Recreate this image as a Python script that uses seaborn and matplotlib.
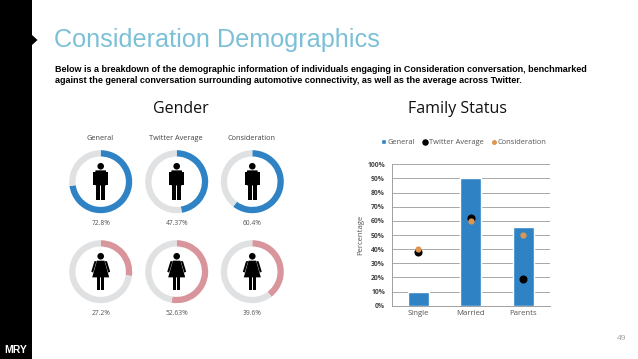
import matplotlib
matplotlib.use('Agg')
import matplotlib.pyplot as plt
import matplotlib.patches as mp
import pandas as pd
import seaborn as sns

W, H = 638, 359

# 数据
gender_groups = ['General', 'Twitter Average', 'Consideration']
male_values = [72.8, 47.37, 60.4]
female_values = [27.2, 52.63, 39.6]
male_labels = ['72.8%', '47.37%', '60.4%']
female_labels = ['27.2%', '52.63%', '39.6%']

family_status = ['Single', 'Married', 'Parents']
general_family = [10, 90, 55.5]
twitter_family = [38, 62, 19]
consideration_family = [40, 60, 50]

title_text = 'Consideration Demographics'
intro_lines = ['Below is a breakdown of the demographic information of individuals engaging in Consideration conversation, benchmarked',
               'against the general conversation surrounding automotive connectivity, as well as the average across Twitter.']

BLUE = '#2f83c5'
PINK = '#d9959c'
RING = '#dfe1e3'
ORANGE = '#e0954f'

sns.set_theme(style='white')
plt.rcParams['font.family'] = ['Open Sans', 'DejaVu Sans']

fig = plt.figure(figsize=(W / 100, H / 100), dpi=100, facecolor='white')


def px_axes(x0, y0, x1, y1):
    # 像素坐标（左上角为原点）转换为figure坐标
    return fig.add_axes([x0 / W, 1 - y1 / H, (x1 - x0) / W, (y1 - y0) / H])


# 背景层：侧边栏和文字
bg = fig.add_axes([0, 0, 1, 1])
bg.set_xlim(0, W)
bg.set_ylim(H, 0)
bg.axis('off')
bg.add_patch(mp.Rectangle((0, 0), 32, H, color='black', lw=0))
bg.add_patch(mp.Polygon([(32, 35), (37.5, 40), (32, 45)], color='black', lw=0))
bg.text(16, 350, 'MRY', color='white', fontsize=7.5, fontweight='bold', ha='center', va='center',
        family='Liberation Sans')
bg.text(54, 40, title_text, color='#7cc0d8', fontsize=18.2, ha='left', va='center',
        family='Liberation Sans')
for line, y in zip(intro_lines, [69, 80.5]):
    bg.text(55, y, line, color='black', fontsize=6.48, fontweight='bold', ha='left', va='center',
            family='Liberation Sans')
bg.text(181, 109, 'Gender', color='#111111', fontsize=11.5, ha='center', va='center')
bg.text(458, 109, 'Family Status', color='#111111', fontsize=11.5, ha='center', va='center')
bg.text(622, 339, '49', color='#999999', fontsize=6, ha='center', va='center')


def draw_man(ax):
    ax.add_patch(mp.Circle((0, 0.49), 0.105, color='black', lw=0))
    ax.add_patch(mp.FancyBboxPatch((-0.15, -0.10), 0.30, 0.44, boxstyle='round,pad=0.02', color='black', lw=0))
    for sx in (-1, 1):
        ax.add_patch(mp.Rectangle((sx * 0.19 - 0.04, -0.10), 0.08, 0.40, color='black', lw=0))
        ax.add_patch(mp.Rectangle((sx * 0.075 - 0.06, -0.59), 0.12, 0.52, color='black', lw=0))


def draw_woman(ax):
    ax.add_patch(mp.Circle((0, 0.49), 0.105, color='black', lw=0))
    ax.add_patch(mp.Polygon([(-0.12, 0.35), (0.12, 0.35), (0.27, -0.18), (-0.27, -0.18)], color='black', lw=0))
    for sx in (-1, 1):
        ax.add_patch(mp.Polygon([(sx * 0.13, 0.34), (sx * 0.20, 0.33), (sx * 0.30, 0.0), (sx * 0.24, -0.03)],
                                color='black', lw=0))
        ax.add_patch(mp.Rectangle((sx * 0.07 - 0.05, -0.58), 0.10, 0.42, color='black', lw=0))


# 环形图
centers_x = [100.7, 176.7, 252.3]
R = 31.5
rows = [(181.7, male_values, male_labels, BLUE, draw_man),
        (271.7, female_values, female_labels, PINK, draw_woman)]
for cy, values, labels, color, icon in rows:
    for cx, val, lab in zip(centers_x, values, labels):
        ax = px_axes(cx - R, cy - R, cx + R, cy + R)
        ax.pie([val, 100 - val], colors=[color, RING], startangle=90, counterclock=False, radius=1,
               wedgeprops={'width': 0.2, 'linewidth': 0})
        ax.set_xlim(-1, 1)
        ax.set_ylim(-1, 1)
        icon(ax)
        bg.text(cx, cy + 41.5, lab, color='#555555', fontsize=4.8, ha='center', va='center')

for cx, name in zip(centers_x, gender_groups):
    bg.text(cx - 0.5, 138, name, color='#444444', fontsize=5.3, ha='center', va='center')

# 柱状图和散点
df = pd.DataFrame({'status': family_status, 'general': general_family,
                   'twitter': twitter_family, 'consideration': consideration_family})
ax = px_axes(392, 164.3, 549.5, 305.7)
ax.set_axisbelow(True)
sns.barplot(data=df, x='status', y='general', color=BLUE, saturation=1, width=0.395, ax=ax, label='General', zorder=2)
sns.scatterplot(data=df, x='status', y='twitter', color='black', s=34, linewidth=0, ax=ax,
                label='Twitter Average', zorder=3)
sns.scatterplot(data=df, x='status', y='consideration', color=ORANGE, s=20, linewidth=0, ax=ax,
                label='Consideration', zorder=4)

ax.set_xlim(-0.5, 2.5)
ax.set_ylim(0, 100)
ax.set_yticks(range(0, 101, 10))
ax.set_yticklabels([f'{v}%' for v in range(0, 101, 10)])
ax.grid(True, axis='y', color='#a8a8a8', linewidth=0.7)
ax.set_xlabel('')
ax.set_ylabel('Percentage', fontsize=5.6, color='#555555', labelpad=2.5)
ax.tick_params(axis='y', labelsize=4.9, labelcolor='#444444', length=0, pad=5)
ax.tick_params(axis='x', labelsize=5.6, labelcolor='#555555', length=0, pad=3)
for lab in ax.get_yticklabels():
    lab.set_fontweight('bold')
sns.despine(ax=ax, top=True, right=True)
for side in ('left', 'bottom'):
    ax.spines[side].set_color('#a0a0a0')
    ax.spines[side].set_linewidth(0.7)

# 图例顺序：General, Twitter Average, Consideration
handles, labels = ax.get_legend_handles_labels()
by_label = dict(zip(labels, handles))
legend_order = ['General', 'Twitter Average', 'Consideration']
ax.legend([by_label[k] for k in legend_order], legend_order, loc='center',
          bbox_to_anchor=(464 / W, 1 - 142.5 / H), bbox_transform=fig.transFigure,
          ncol=3, frameon=False, fontsize=5.4, handlelength=0.6, handletextpad=0.25, columnspacing=1.0,
          markerscale=0.8, labelcolor='#555555', borderpad=0, borderaxespad=0)

fig.savefig('out.png', dpi=100)
